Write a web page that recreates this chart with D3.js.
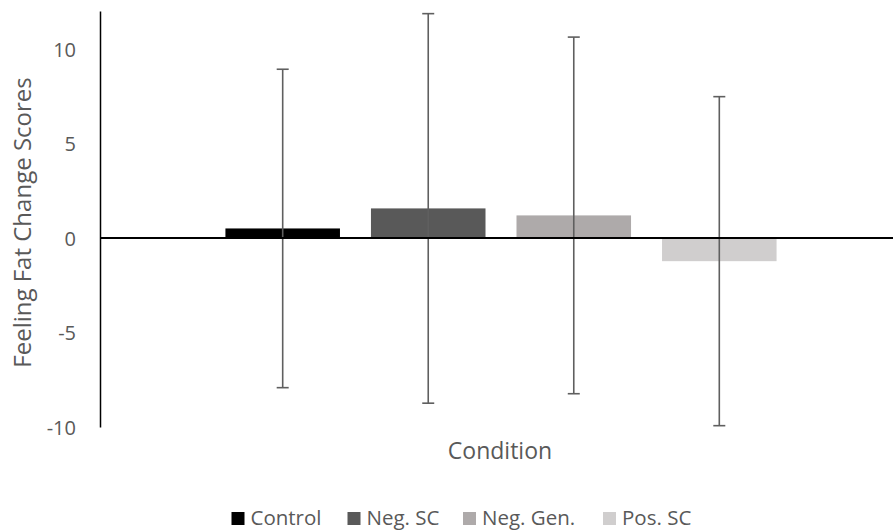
<!DOCTYPE html>
<html>
<head>
<meta charset="utf-8">
<script src="https://cdn.jsdelivr.net/npm/d3@7"></script>
<style>
  body { margin: 0; background: #fff; }
  text { font-family: "Open Sans", "Liberation Sans", sans-serif; fill: #595959; }
</style>
</head>
<body>
<div id="chart"></div>
<script>
// chart values
var categories = ["Condition"];
var series = ["Control", "Neg. SC", "Neg. Gen.", "Pos. SC"];
var means = [0.5, 1.56, 1.19, -1.23];
var errors = [8.42, 10.3, 9.43, 8.7];
var yTicks = [-10, -5, 0, 5, 10];
var colors = ["#000000", "#595959", "#aeaaaa", "#d0cece"];

var layout = {
    "width": 893,
    "height": 530,
    "left": 100,
    "right": 902,
    "top": 11,
    "bottom": 427
};

var svg = d3.select("#chart").append("svg")
    .attr("width", layout.width)
    .attr("height", layout.height);

// scales
var y = d3.scaleLinear()
    .domain([-10, 12])
    .range([layout.bottom, layout.top]);

var x0 = d3.scaleBand()
    .domain(categories)
    .range([layout.left, layout.right])
    .paddingInner(0)
    .paddingOuter(0.154);

var x1 = d3.scaleBand()
    .domain(series)
    .range([0, x0.bandwidth()])
    .padding(0.213);

var data = series.map((s, i) => ({ name: s, mean: means[i], err: errors[i], color: colors[i] }));

// y axis - plain hyphen for negatives, like the original
var yAxis = d3.axisLeft(y)
    .tickValues(yTicks)
    .tickFormat(d => String(d))
    .tickSize(0)
    .tickPadding(24);
var gy = svg.append("g")
    .attr("transform", "translate(" + layout.left + ",0)")
    .call(yAxis);
gy.select(".domain").attr("stroke", "#000").attr("stroke-width", 1.5);
gy.selectAll(".tick text")
    .style("font-size", "20px")
    .attr("fill", "#595959")
    .attr("dy", "0.36em");

// bars
var g = svg.append("g")
    .attr("transform", "translate(" + x0("Condition") + ",0)");

g.selectAll("rect")
    .data(data)
    .enter()
    .append("rect")
    .attr("x", d => x1(d.name))
    .attr("width", x1.bandwidth())
    .attr("y", d => y(Math.max(0, d.mean)))
    .attr("height", d => Math.abs(y(d.mean) - y(0)))
    .attr("fill", d => d.color);

// zero line
svg.append("line")
    .attr("x1", layout.left)
    .attr("x2", layout.width)
    .attr("y1", y(0))
    .attr("y2", y(0))
    .attr("stroke", "#000")
    .attr("stroke-width", 2);

// error bars
var eb = g.selectAll(".err")
    .data(data)
    .enter()
    .append("g")
    .attr("class", "err")
    .attr("stroke", "#5f5f5f")
    .attr("stroke-width", 1.6);

eb.append("line")
    .attr("x1", d => x1(d.name) + x1.bandwidth() / 2)
    .attr("x2", d => x1(d.name) + x1.bandwidth() / 2)
    .attr("y1", d => y(d.mean + d.err))
    .attr("y2", d => y(d.mean - d.err));

eb.append("line")
    .attr("x1", d => x1(d.name) + x1.bandwidth() / 2 - 6)
    .attr("x2", d => x1(d.name) + x1.bandwidth() / 2 + 6)
    .attr("y1", d => y(d.mean + d.err))
    .attr("y2", d => y(d.mean + d.err));

eb.append("line")
    .attr("x1", d => x1(d.name) + x1.bandwidth() / 2 - 6)
    .attr("x2", d => x1(d.name) + x1.bandwidth() / 2 + 6)
    .attr("y1", d => y(d.mean - d.err))
    .attr("y2", d => y(d.mean - d.err));

// axis titles
svg.append("text")
    .attr("x", 500)
    .attr("y", 459)
    .attr("text-anchor", "middle")
    .style("font-size", "23px")
    .text("Condition");

svg.append("text")
    .attr("transform", "translate(31,222.5) rotate(-90)")
    .attr("text-anchor", "middle")
    .style("font-size", "24px")
    .text("Feeling Fat Change Scores");

// legend
var legendX = [231.5, 347.5, 463, 603];
var legend = svg.selectAll(".legend")
    .data(data)
    .enter()
    .append("g")
    .attr("class", "legend")
    .attr("transform", (d, i) => "translate(" + legendX[i] + ",512)");

legend.append("rect")
    .attr("width", 13)
    .attr("height", 13)
    .attr("fill", d => d.color);

legend.append("text")
    .attr("x", 19)
    .attr("y", 13)
    .style("font-size", "20.5px")
    .text(d => d.name);
</script>
</body>
</html>
